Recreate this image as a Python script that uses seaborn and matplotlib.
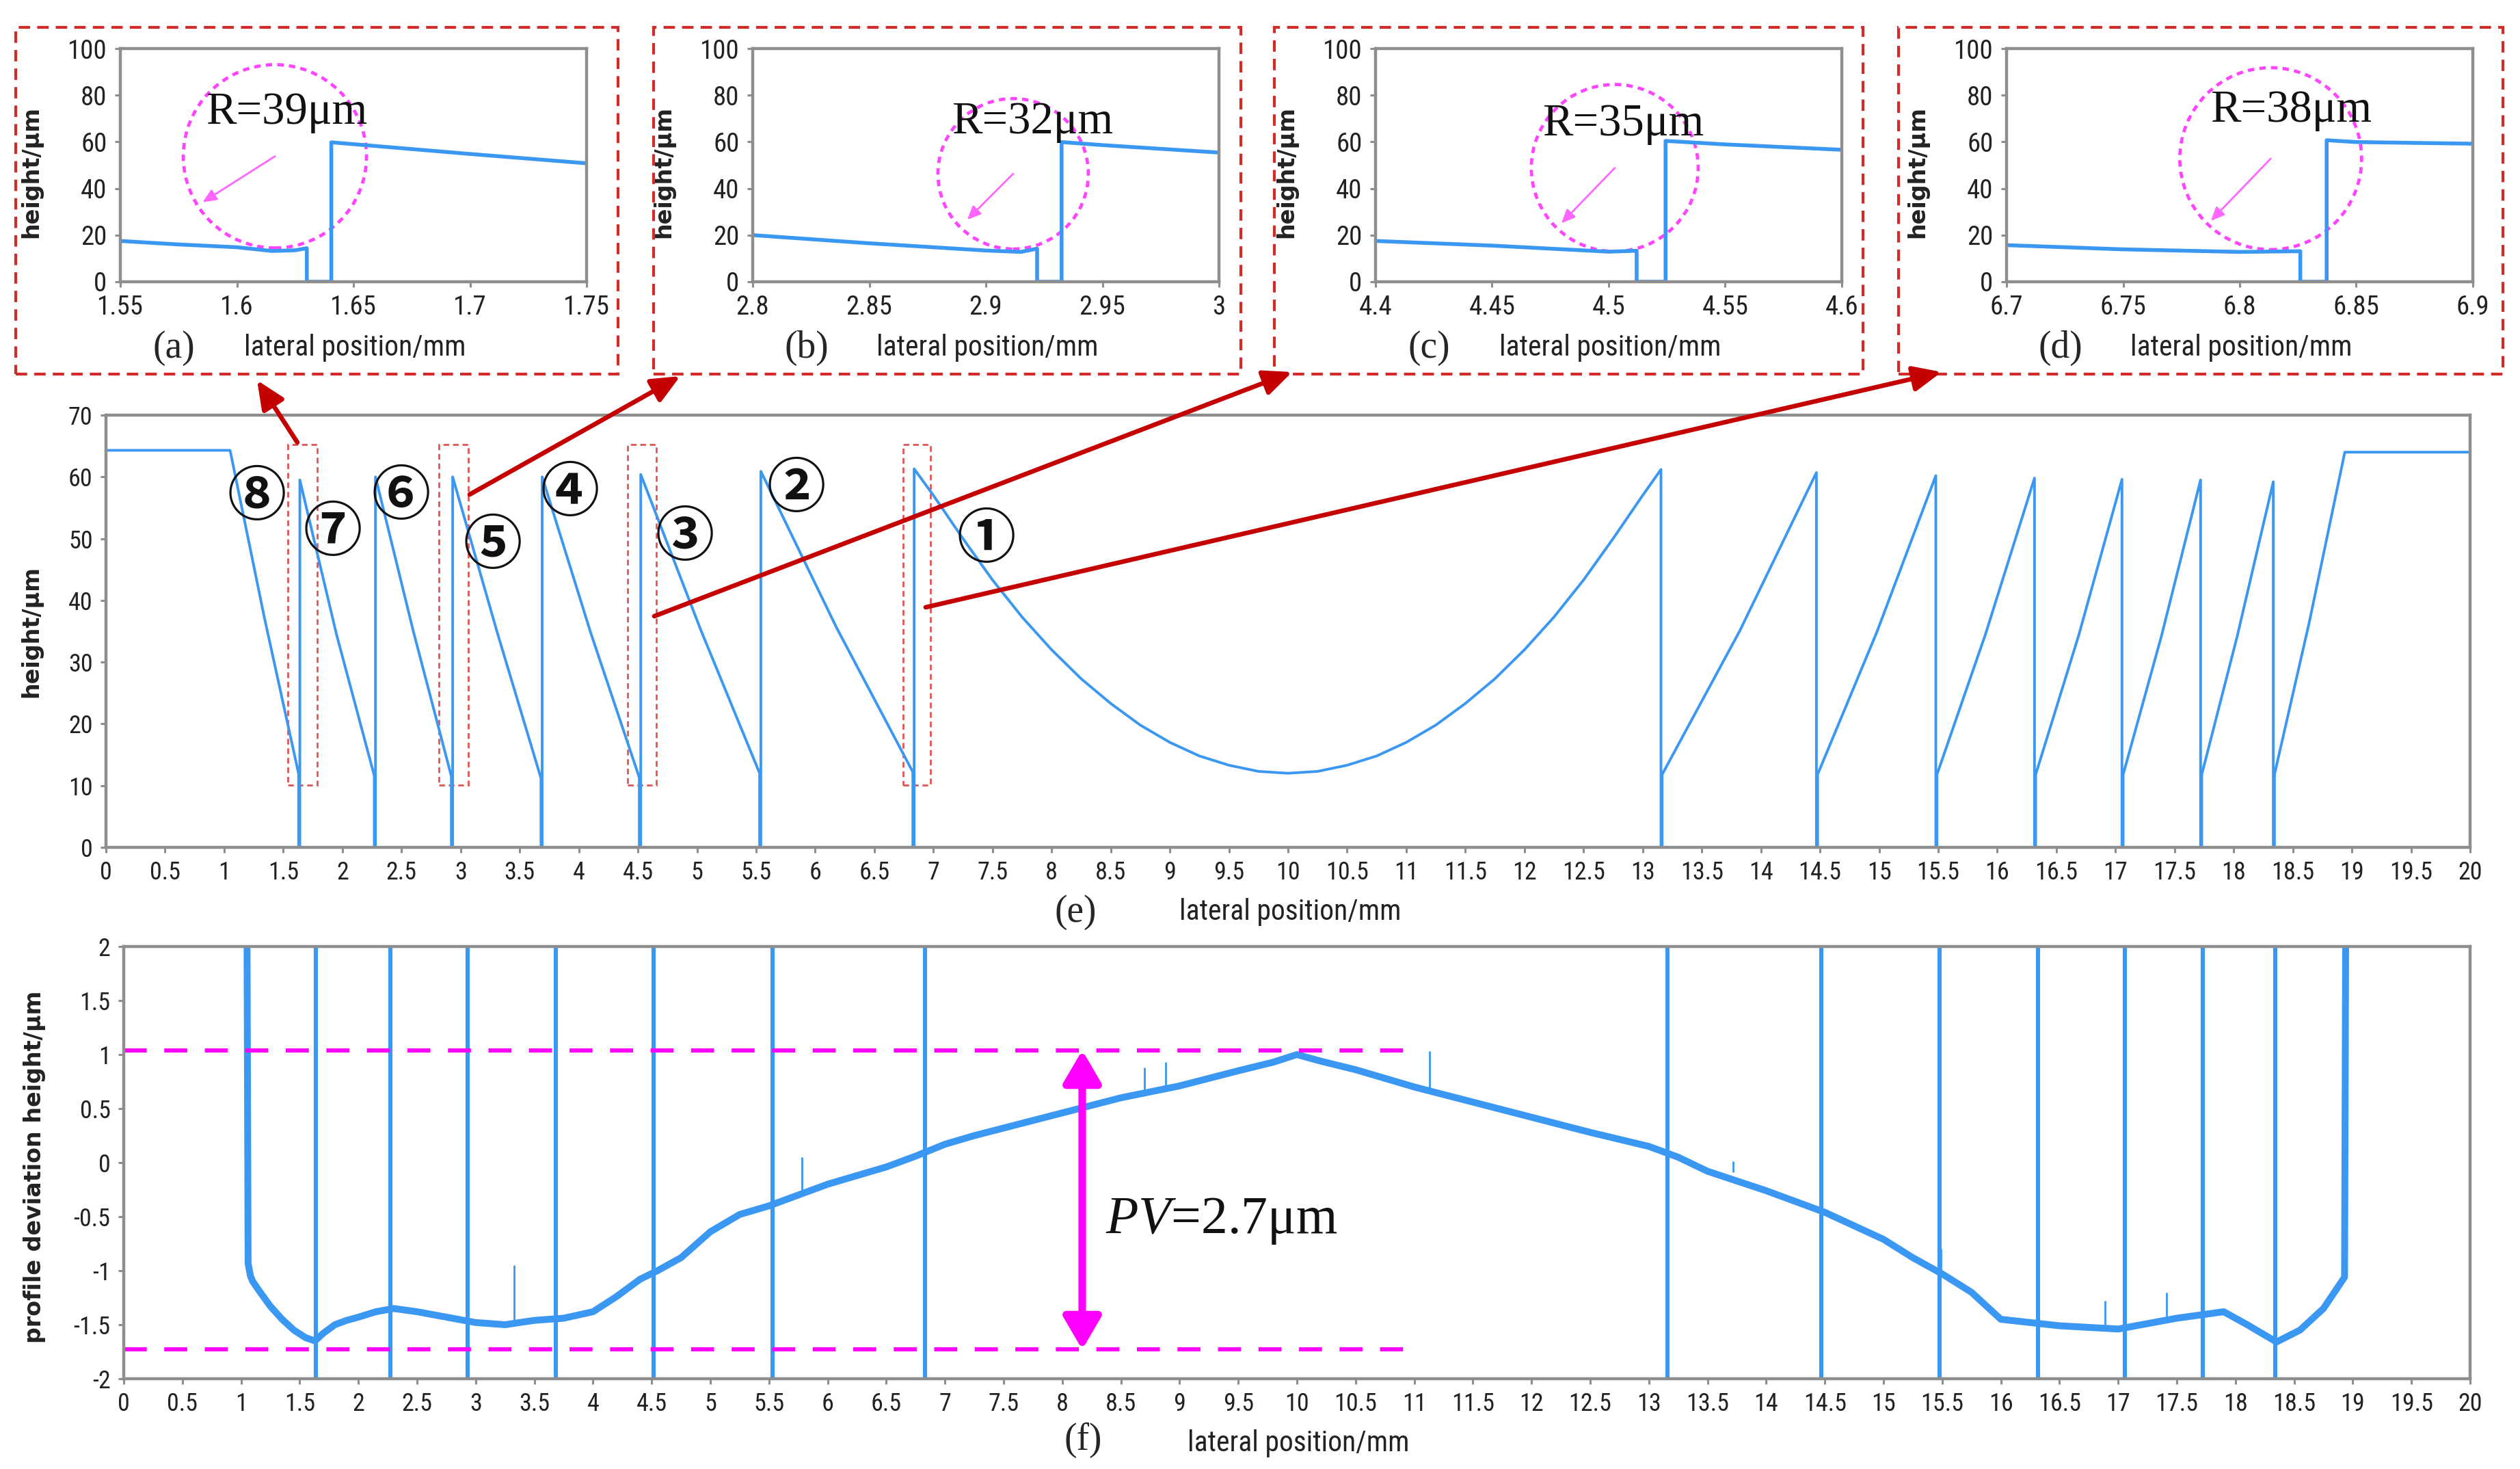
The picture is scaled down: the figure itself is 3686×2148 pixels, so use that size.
import matplotlib
matplotlib.use('Agg')
import matplotlib.pyplot as plt
import seaborn as sns
from matplotlib import font_manager
from matplotlib.patches import Ellipse, Rectangle
from matplotlib.ticker import FuncFormatter

# ---------------- data ----------------
# (e) whole lateral profile: position in mm, height in um
profile_x = [0.0, 1.05, 1.34, 1.63, 1.63, 1.64, 1.64,
             1.95, 2.27, 2.27, 2.28, 2.28,
             2.60, 2.922, 2.922, 2.933, 2.933,
             3.31, 3.68, 3.68, 3.69, 3.69,
             4.10, 4.512, 4.512, 4.524, 4.524,
             5.03, 5.53, 5.53, 5.54, 5.54,
             6.18, 6.826, 6.826, 6.837, 6.837,
             7.0, 7.25, 7.5, 7.75, 8.0, 8.25, 8.5, 8.75, 9.0, 9.25, 9.5, 9.75,
             10.0, 10.25, 10.5, 10.75, 11.0, 11.25, 11.5, 11.75, 12.0, 12.25,
             12.5, 12.75, 13.0, 13.155, 13.155, 13.165, 13.165,
             13.82, 14.47, 14.47, 14.48, 14.48,
             14.98, 15.48, 15.48, 15.49, 15.49,
             15.90, 16.315, 16.315, 16.325, 16.325,
             16.69, 17.055, 17.055, 17.065, 17.065,
             17.39, 17.72, 17.72, 17.73, 17.73,
             18.03, 18.335, 18.335, 18.345, 18.345,
             18.64, 18.94, 20.0]
profile_y = [64.3, 64.3, 37.2, 11.9, 0.0, 0.0, 59.5,
             34.5, 11.6, 0.0, 0.0, 60.0,
             35.0, 11.5, 0.0, 0.0, 60.0,
             34.8, 11.2, 0.0, 0.0, 60.0,
             34.8, 11.3, 0.0, 0.0, 60.4,
             35.3, 12.0, 0.0, 0.0, 60.9,
             35.6, 12.2, 0.0, 0.0, 61.3,
             57.0, 50.0, 43.3, 37.3, 32.0, 27.3, 23.3, 19.8, 17.0, 14.8, 13.3, 12.3,
             12.0, 12.3, 13.3, 14.8, 17.0, 19.8, 23.3, 27.3, 32.0, 37.3,
             43.3, 50.0, 57.0, 61.2, 0.0, 0.0, 11.8,
             35.0, 60.7, 0.0, 0.0, 11.8,
             34.8, 60.2, 0.0, 0.0, 11.8,
             34.5, 59.8, 0.0, 0.0, 11.8,
             34.4, 59.6, 0.0, 0.0, 11.8,
             34.3, 59.5, 0.0, 0.0, 11.8,
             34.2, 59.2, 0.0, 0.0, 11.8,
             36.5, 64.0, 64.0]
zone_labels = ['⑧', '⑦', '⑥', '⑤', '④', '③', '②', '①']
zone_label_x = [1.275, 1.918, 2.494, 3.27, 3.925, 4.895, 5.837, 7.445]
zone_label_y = [56.6, 50.9, 56.7, 48.8, 57.3, 50.1, 58.0, 49.8]
zoom_box_x0 = [1.541, 2.816, 4.412, 6.741]
zoom_box_x1 = [1.785, 3.065, 4.656, 6.973]
zoom_box_y0, zoom_box_y1 = 10.1, 65.2

# (a)-(d) zoomed steps
inset_a_x = [1.55, 1.575, 1.60, 1.615, 1.625, 1.630, 1.630, 1.6405, 1.6405, 1.70, 1.75]
inset_a_y = [17.5, 16.0, 14.8, 13.2, 13.5, 14.4, 0.0, 0.0, 59.8, 54.8, 50.8]
inset_b_x = [2.80, 2.85, 2.90, 2.915, 2.922, 2.922, 2.9325, 2.9325, 2.95, 3.00]
inset_b_y = [20.0, 16.5, 13.4, 12.8, 14.2, 0.0, 0.0, 59.9, 58.6, 55.4]
inset_c_x = [4.40, 4.45, 4.50, 4.512, 4.512, 4.5244, 4.5244, 4.55, 4.60]
inset_c_y = [17.5, 15.5, 12.9, 13.3, 0.0, 0.0, 60.4, 58.9, 56.6]
inset_d_x = [6.70, 6.75, 6.80, 6.826, 6.826, 6.8373, 6.8373, 6.85, 6.90]
inset_d_y = [15.7, 13.9, 12.8, 13.1, 0.0, 0.0, 60.7, 59.9, 59.2]
inset_letters = ['(a)', '(b)', '(c)', '(d)']
inset_radius = ['R=39μm', 'R=32μm', 'R=35μm', 'R=38μm']
inset_xlim = [(1.55, 1.75), (2.8, 3.0), (4.4, 4.6), (6.7, 6.9)]
inset_xticks = [[1.55, 1.6, 1.65, 1.7, 1.75], [2.8, 2.85, 2.9, 2.95, 3.0],
                [4.4, 4.45, 4.5, 4.55, 4.6], [6.7, 6.75, 6.8, 6.85, 6.9]]
circle_cx = [1.6163, 2.9117, 4.5026, 6.8133]
circle_cy = [53.8, 46.3, 48.8, 52.8]
circle_w = [0.0786, 0.0645, 0.0716, 0.0780]
circle_h = [78.6, 64.5, 71.6, 78.0]
r_arrow_tip = [(1.5853, 34.1), (2.892, 26.6), (4.4797, 25.1), (6.7876, 26.1)]
r_text_xy = [(1.6214, 72.5), (2.920, 68.5), (4.5063, 67.5), (6.822, 73.5)]

# (f) profile deviation, um
dev_x = [1.05, 1.06, 1.08, 1.10, 1.15, 1.25, 1.35, 1.45, 1.55, 1.63, 1.70, 1.80, 1.90,
         2.00, 2.15, 2.30, 2.50, 2.75, 3.00, 3.25, 3.50, 3.75, 4.00, 4.20, 4.40,
         4.55, 4.75, 5.00, 5.25, 5.50, 5.75, 6.00, 6.25, 6.50, 6.75, 7.00, 7.25,
         7.50, 8.00, 8.50, 9.00, 9.50, 9.80, 10.00, 10.20, 10.50, 11.00, 11.50,
         12.00, 12.50, 13.00, 13.25, 13.50, 14.00, 14.50, 15.00, 15.25, 15.50,
         15.75, 16.00, 16.50, 17.00, 17.50, 17.90, 18.10, 18.35, 18.55, 18.75,
         18.93, 18.94]
dev_y = [2.3, -0.93, -1.05, -1.10, -1.18, -1.33, -1.45, -1.55, -1.62, -1.65, -1.58,
         -1.50, -1.46, -1.43, -1.38, -1.35, -1.38, -1.43, -1.48, -1.50, -1.46,
         -1.44, -1.38, -1.24, -1.08, -1.00, -0.88, -0.64, -0.48, -0.40, -0.30,
         -0.20, -0.12, -0.04, 0.06, 0.17, 0.25, 0.32, 0.46, 0.60, 0.71, 0.85,
         0.93, 1.00, 0.94, 0.86, 0.70, 0.56, 0.42, 0.28, 0.15, 0.05, -0.08,
         -0.26, -0.46, -0.71, -0.88, -1.03, -1.20, -1.45, -1.51, -1.54, -1.44,
         -1.38, -1.50, -1.66, -1.55, -1.35, -1.06, 2.3]
step_x = [1.64, 2.275, 2.93, 3.683, 4.518, 5.533, 6.832,
          13.16, 14.472, 15.48, 16.315, 17.06, 17.72, 18.34]
spike_x = [3.33, 5.78, 8.70, 8.88, 11.13, 13.72, 15.49, 16.89, 17.41]
spike_lo = [-1.50, -0.30, 0.62, 0.66, 0.68, -0.09, -1.05, -1.55, -1.45]
spike_hi = [-0.95, 0.05, 0.88, 0.93, 1.03, 0.01, -0.80, -1.28, -1.20]
pv_top, pv_bottom = 1.04, -1.73
pv_line_end = 11.05
pv_arrow_x = 8.17

# ---------------- style ----------------
sns.set_theme(style='ticks')
installed = {f.name for f in font_manager.fontManager.ttflist}
tick_font = next((f for f in ['Liberation Sans Narrow', 'Roboto Condensed', 'Open Sans Condensed']
                  if f in installed), 'DejaVu Sans')
plt.rcParams['font.family'] = [tick_font, 'DejaVu Sans']
plt.rcParams['mathtext.fontset'] = 'custom'
plt.rcParams['mathtext.rm'] = 'Liberation Serif'
plt.rcParams['mathtext.it'] = 'Liberation Serif:italic'

W, H, DPI = 3686, 2148, 200
BLUE = '#3a97f2'
GREY = '#8e8e8e'
MAGENTA = '#ff00ff'
SERIF = ['Liberation Serif', 'DejaVu Serif']

fig = plt.figure(figsize=(W / DPI, H / DPI), dpi=DPI, facecolor='white')


def px_axes(left, top, right, bottom):
    return fig.add_axes([left / W, 1 - bottom / H, (right - left) / W, (bottom - top) / H])


def style_axes(ax, size):
    for s in ax.spines.values():
        s.set_color(GREY)
        s.set_linewidth(1.6)
    ax.tick_params(direction='out', length=3, width=1.1, color=GREY,
                   labelsize=size, pad=4, labelcolor='#222222')
    ax.xaxis.set_major_formatter(FuncFormatter(lambda v, p: f'{v:g}'))
    ax.yaxis.set_major_formatter(FuncFormatter(lambda v, p: f'{v:g}'))
    ax.set_facecolor('white')


def ylabel(ax, text, xpos, ypos=0.5):
    ax.set_ylabel(text, family='DejaVu Sans', fontweight='bold', fontsize=12, color='#222222')
    ax.yaxis.set_label_coords(xpos, ypos)


# ---------------- insets (a)-(d) ----------------
inset_px = [(176, 858), (1101, 1783), (2012, 2694), (2935, 3617)]
frame_px = [(23, 904), (956, 1815), (1864, 2725), (2777, 3661)]
inset_data = [(inset_a_x, inset_a_y), (inset_b_x, inset_b_y),
              (inset_c_x, inset_c_y), (inset_d_x, inset_d_y)]

for i in range(4):
    ax = px_axes(inset_px[i][0], 71, inset_px[i][1], 412)
    xs, ys = inset_data[i]
    sns.lineplot(x=xs, y=ys, ax=ax, sort=False, estimator=None, color=BLUE, lw=2.0)
    ax.set_xlim(*inset_xlim[i])
    ax.set_ylim(0, 100)
    ax.set_xticks(inset_xticks[i])
    ax.set_yticks(range(0, 101, 20))
    style_axes(ax, 14)
    ax.set_xlabel('')
    ylabel(ax, 'height/μm', -0.167, 0.47)
    ax.text(0.503, -0.284, 'lateral position/mm', transform=ax.transAxes,
            ha='center', va='center', fontsize=15, color='#222222')
    ax.text(0.115, -0.284, inset_letters[i], transform=ax.transAxes,
            ha='center', va='center', fontsize=20, family=SERIF)
    ax.add_patch(Ellipse((circle_cx[i], circle_cy[i]), circle_w[i], circle_h[i],
                         fill=False, ec='#ff44ff', lw=1.7, ls=(0, (2.0, 1.6))))
    ax.annotate('', xy=r_arrow_tip[i], xytext=(circle_cx[i], circle_cy[i]),
                arrowprops=dict(arrowstyle='-|>,head_length=0.5,head_width=0.22',
                                color='#ff66ff', lw=1.0, shrinkA=0, shrinkB=0,
                                mutation_scale=12))
    ax.text(*r_text_xy[i], inset_radius[i], ha='center', va='center',
            fontsize=24, family=SERIF, color='#111111')
    # red dashed frame around each inset
    fl, fr = frame_px[i]
    fig.add_artist(Rectangle((fl / W, 1 - 547 / H), (fr - fl) / W, (547 - 40) / H,
                             transform=fig.transFigure, fill=False, ec='#d42a2a',
                             lw=1.5, ls=(0, (4, 2.5))))

# ---------------- (e) full profile ----------------
ax_e = px_axes(155, 607, 3613, 1239)
sns.lineplot(x=profile_x, y=profile_y, ax=ax_e, sort=False, estimator=None, color=BLUE, lw=1.4)
ax_e.set_xlim(0, 20)
ax_e.set_ylim(0, 70)
ax_e.set_xticks([k * 0.5 for k in range(41)])
ax_e.set_yticks(range(0, 71, 10))
style_axes(ax_e, 13)
ylabel(ax_e, 'height/μm', -0.0269)
ax_e.text(0.501, -0.149, 'lateral position/mm', transform=ax_e.transAxes,
          ha='center', va='center', fontsize=15, color='#222222')
ax_e.text(0.41, -0.151, '(e)', transform=ax_e.transAxes, ha='center', va='center',
          fontsize=20, family=SERIF)
for lab, lx, ly in zip(zone_labels, zone_label_x, zone_label_y):
    ax_e.text(lx, ly, lab, ha='center', va='center', fontsize=31, fontweight='bold',
              family=['Noto Sans CJK SC', 'DejaVu Sans'], color='#111111')
for x0, x1 in zip(zoom_box_x0, zoom_box_x1):
    ax_e.add_patch(Rectangle((x0, zoom_box_y0), x1 - x0, zoom_box_y1 - zoom_box_y0,
                             fill=False, ec='#e05555', lw=1.0, ls=(0, (3, 2))))

# dark red arrows from the zoom boxes to the insets (figure pixels, top-left origin)
arrows_px = [((435, 647), (376, 556)), ((687, 723), (995, 550)),
             ((957, 901), (1890, 544)), ((1354, 888), (2840, 544))]
for (sx, sy), (ex, ey) in arrows_px:
    fig.add_artist(matplotlib.patches.FancyArrowPatch(
        (sx / W, 1 - sy / H), (ex / W, 1 - ey / H), transform=fig.transFigure,
        arrowstyle='-|>,head_length=0.9,head_width=0.4', mutation_scale=14,
        color='#c40000', lw=2.4, shrinkA=0, shrinkB=0))

# ---------------- (f) profile deviation ----------------
ax_f = px_axes(181, 1384, 3613, 2016)
ax_f.vlines(step_x, -2.3, 2.3, color=BLUE, lw=2.2)
ax_f.vlines(spike_x, spike_lo, spike_hi, color=BLUE, lw=1.0)
sns.lineplot(x=dev_x, y=dev_y, ax=ax_f, sort=False, estimator=None, color=BLUE, lw=3.6)
ax_f.hlines([pv_top, pv_bottom], 0, pv_line_end, color=MAGENTA, lw=2.2,
            linestyles=[(0, (5.5, 4.2))])
ax_f.annotate('', xy=(pv_arrow_x, pv_top), xytext=(pv_arrow_x, pv_bottom),
              arrowprops=dict(arrowstyle='<|-|>,head_length=1.2,head_width=0.7',
                              color=MAGENTA, lw=4, shrinkA=0, shrinkB=0,
                              mutation_scale=12))
ax_f.text(pv_arrow_x + 0.2, -0.54, r'$PV$=2.7μm', ha='left', va='center',
          fontsize=28, family=SERIF, color='#111111')
ax_f.set_xlim(0, 20)
ax_f.set_ylim(-2, 2)
ax_f.set_xticks([k * 0.5 for k in range(41)])
ax_f.set_yticks([k * 0.5 - 2 for k in range(9)])
style_axes(ax_f, 13)
ylabel(ax_f, 'profile deviation height/μm', -0.0332, 0.49)
ax_f.text(0.5006, -0.150, 'lateral position/mm', transform=ax_f.transAxes,
          ha='center', va='center', fontsize=15, color='#222222')
ax_f.text(0.409, -0.142, '(f)', transform=ax_f.transAxes, ha='center', va='center',
          fontsize=20, family=SERIF)

fig.savefig('out.png', dpi=DPI, facecolor='white')
